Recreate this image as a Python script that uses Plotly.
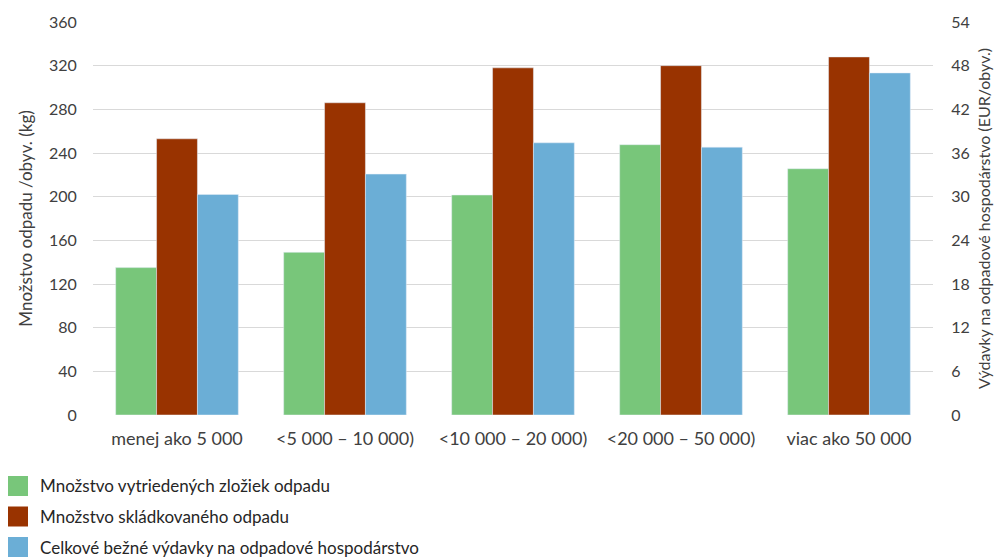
import plotly.graph_objects as go

categories = ["menej ako 5 000", "<5 000 – 10 000)", "<10 000 – 20 000)", "<20 000 – 50 000)", "viac ako 50 000"]
sorted_waste = [135, 149, 201.5, 247.6, 225.6]        # kg / obyv.
landfilled_waste = [253, 286, 318, 320, 328]          # kg / obyv.
expenditure = [30.3, 33.1, 37.4, 36.8, 47.0]          # EUR / obyv.

series_names = ["Množstvo vytriedených zložiek odpadu",
                "Množstvo skládkovaného odpadu",
                "Celkové bežné výdavky na odpadové hospodárstvo"]
series_colors = ["#78C67A", "#993300", "#6BAED6"]

left_ticks = list(range(0, 361, 40))
right_ticks = list(range(0, 55, 6))

FONT = "Lato"
TXT = "#404040"

W, H = 1007, 557
ML, MR, MT, MB = 93, 74, 22, 142
PW, PH = W - ML - MR, H - MT - MB

def px_x(px):
    return (px - ML) / PW

def px_y(py):
    return (H - MB - py) / PH

fig = go.Figure()
for vals, name, col, grp, ax in zip([sorted_waste, landfilled_waste, expenditure], series_names,
                                    series_colors, ["1", "2", "3"], ["y", "y", "y2"]):
    fig.add_trace(go.Bar(x=categories, y=vals, name=name, marker_color=col,
                         offsetgroup=grp, yaxis=ax, showlegend=False))

# custom legend below the chart (swatch + label)
shapes, annotations = [], []
for i, (name, col) in enumerate(zip(series_names, series_colors)):
    cy = 486 + i * 30.5
    shapes.append(dict(type="rect", xref="paper", yref="paper",
                       x0=px_x(8), x1=px_x(28), y0=px_y(cy + 10), y1=px_y(cy - 10),
                       fillcolor=col, line=dict(width=0)))
    annotations.append(dict(xref="paper", yref="paper", x=px_x(38), y=px_y(cy),
                            xanchor="left", yanchor="middle", text=name, showarrow=False,
                            font=dict(family=FONT, size=17, color="#262626")))

fig.update_layout(
    width=W, height=H,
    margin=dict(l=ML, r=MR, t=MT, b=MB),
    paper_bgcolor="white", plot_bgcolor="white",
    font=dict(family=FONT, size=17, color=TXT),
    barmode="group", bargap=0.27, bargroupgap=0,
    xaxis=dict(showgrid=False, showline=False, ticks="outside", ticklen=7, tickcolor="white",
               tickfont=dict(size=18, color=TXT)),
    yaxis=dict(range=[0, 360], tickvals=left_ticks, showgrid=True, gridcolor="#d9d9d9", gridwidth=1,
               zeroline=False, showline=False, ticks="outside", ticklen=12, tickcolor="white",
               tickfont=dict(size=16, color=TXT),
               title=dict(text="Množstvo odpadu /obyv. (kg)", font=dict(size=17, color=TXT), standoff=12)),
    yaxis2=dict(range=[0, 54], tickvals=right_ticks, overlaying="y", side="right", showgrid=False,
                zeroline=False, showline=False, ticks="outside", ticklen=14, tickcolor="white",
                tickfont=dict(size=16, color=TXT),
                title=dict(text="Výdavky na odpadové hospodárstvo (EUR/obyv.)", font=dict(size=16, color=TXT), standoff=10)),
    shapes=shapes,
    annotations=annotations,
    showlegend=False,
)

fig.write_html("out.html", config={"displayModeBar": False},
               post_script="document.body.style.margin='0';document.body.style.overflow='hidden';")
